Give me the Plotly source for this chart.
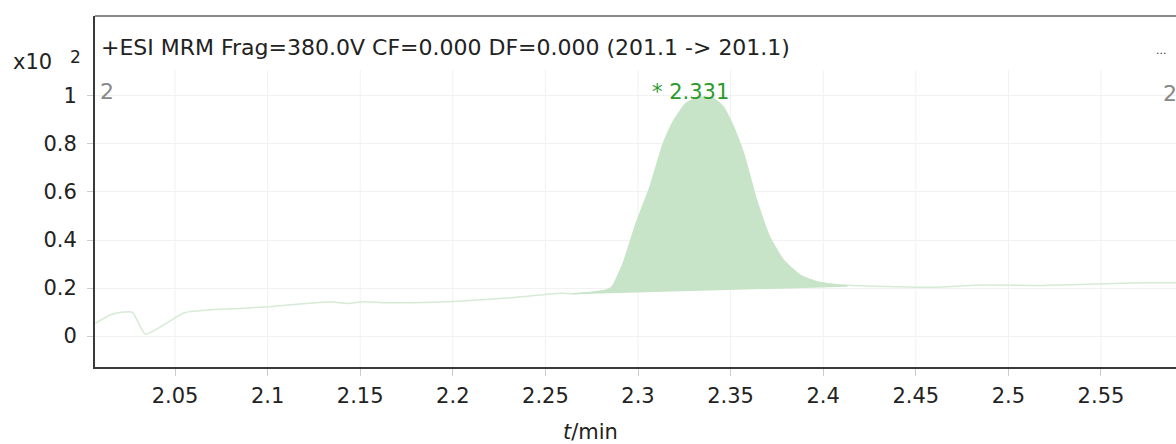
import plotly.graph_objects as go

# ---- data ----
time_min = [2.007, 2.015, 2.021, 2.027, 2.034, 2.055, 2.067, 2.085, 2.101, 2.121,
            2.135, 2.143, 2.152, 2.164, 2.197, 2.233, 2.258, 2.265, 2.276, 2.283,
            2.286, 2.292, 2.299, 2.3065, 2.3137, 2.319, 2.326, 2.3335, 2.3407, 2.346,
            2.3515, 2.357, 2.364, 2.371, 2.3785, 2.3875, 2.3965, 2.409, 2.413, 2.44,
            2.459, 2.485, 2.521, 2.548, 2.575, 2.592]
intensity_x100 = [0.053, 0.0875, 0.099, 0.099, 0.008, 0.097, 0.108, 0.115, 0.122, 0.136,
                  0.142, 0.136, 0.143, 0.139, 0.143, 0.161, 0.178, 0.176, 0.183, 0.192,
                  0.205, 0.303, 0.47, 0.622, 0.803, 0.893, 0.97, 0.995, 0.99, 0.955,
                  0.872, 0.761, 0.567, 0.414, 0.317, 0.254, 0.226, 0.2125, 0.211, 0.205,
                  0.203, 0.2125, 0.211, 0.217, 0.222, 0.222]

peak_start_time = 2.265
peak_end_time = 2.413
peak_baseline = [0.174, 0.205]      # integration baseline at start / end
peak_rt_label = "* 2.331"
peak_rt = 2.331

x_ticks = [2.05, 2.10, 2.15, 2.20, 2.25, 2.30, 2.35, 2.40, 2.45, 2.50, 2.55]
y_ticks = [0, 0.2, 0.4, 0.6, 0.8, 1.0]

header_text = "+ESI MRM Frag=380.0V CF=0.000 DF=0.000 (201.1 -> 201.1)"

# ---- figure ----
X_RANGE = [2.0068, 2.5905]
Y_RANGE = [-0.129, 1.333]
GRID_TOP = 1.108
FONT = "DejaVu Sans, Liberation Sans, Arial, sans-serif"
TXT = "#222222"

fig = go.Figure()

# full chromatogram trace (faint green)
fig.add_trace(go.Scatter(
    x=time_min, y=intensity_x100, mode="lines",
    line=dict(color="#d6ebd6", width=1.5, shape="spline", smoothing=0.5),
    hoverinfo="skip", showlegend=False))

# integrated peak area
pk_t = [t for t in time_min if peak_start_time <= t <= peak_end_time]
pk_v = [v for t, v in zip(time_min, intensity_x100) if peak_start_time <= t <= peak_end_time]
fig.add_trace(go.Scatter(
    x=[peak_start_time, peak_end_time], y=peak_baseline, mode="lines",
    line=dict(color="rgba(0,0,0,0)", width=0), hoverinfo="skip", showlegend=False))
fig.add_trace(go.Scatter(
    x=pk_t, y=pk_v, mode="lines", fill="tonexty",
    fillcolor="#c8e4c8",
    line=dict(color="#c8e4c8", width=1, shape="spline", smoothing=0.5),
    hoverinfo="skip", showlegend=False))

# vertical gridlines (only in data region below header)
for xv in x_ticks:
    fig.add_shape(type="line", xref="x", yref="y", x0=xv, x1=xv,
                  y0=Y_RANGE[0], y1=GRID_TOP,
                  line=dict(color="#f1f1f1", width=1), layer="below")

# top border
fig.add_shape(type="line", xref="paper", yref="paper", x0=0, x1=1, y0=1, y1=1,
              line=dict(color="#8a8a8a", width=2))

# annotations
fig.add_annotation(x=peak_rt, y=max(pk_v), xref="x", yref="y", text=peak_rt_label,
                   showarrow=False, xanchor="center", yanchor="bottom",
                   xshift=-5, yshift=-9,
                   font=dict(family=FONT, size=21, color="#2a9a2a"))
fig.add_annotation(x=0, y=1, xref="paper", yref="paper", text=header_text,
                   showarrow=False, xanchor="left", yanchor="middle",
                   xshift=4, yshift=-31,
                   font=dict(family=FONT, size=22, color=TXT))
fig.add_annotation(x=0, y=1, xref="paper", yref="paper", text="2",
                   showarrow=False, xanchor="left", yanchor="middle",
                   xshift=3, yshift=-75,
                   font=dict(family=FONT, size=22, color="#888888"))
fig.add_annotation(x=1, y=1, xref="paper", yref="paper", text="2",
                   showarrow=False, xanchor="left", yanchor="middle",
                   xshift=-15, yshift=-77,
                   font=dict(family=FONT, size=22, color="#888888"))
fig.add_annotation(x=1, y=1, xref="paper", yref="paper", text="...",
                   showarrow=False, xanchor="left", yanchor="middle",
                   xshift=-22, yshift=-34,
                   font=dict(family=FONT, size=11, color="#333333"))
fig.add_annotation(x=0, y=1, xref="paper", yref="paper", text="x10",
                   showarrow=False, xanchor="right", yanchor="middle",
                   xshift=-41, yshift=-46,
                   font=dict(family=FONT, size=21, color=TXT))
fig.add_annotation(x=0, y=1, xref="paper", yref="paper", text="2",
                   showarrow=False, xanchor="center", yanchor="middle",
                   xshift=-20, yshift=-41,
                   font=dict(family=FONT, size=17, color=TXT))
fig.add_annotation(x=0.458, y=0, xref="paper", yref="paper", text="<i>t</i>/min",
                   showarrow=False, xanchor="center", yanchor="middle",
                   yshift=-65,
                   font=dict(family=FONT, size=21, color=TXT))

fig.update_xaxes(range=X_RANGE, tickvals=x_ticks, showgrid=False, zeroline=False,
                 showline=True, linecolor="#3a3a3a", linewidth=2,
                 ticks="outside", ticklen=7, tickcolor="#cccccc", tickwidth=1,
                 ticklabelstandoff=2,
                 tickfont=dict(family=FONT, size=21, color=TXT))
fig.update_yaxes(range=Y_RANGE, tickvals=y_ticks, showgrid=True, gridcolor="#f1f1f1",
                 gridwidth=1, zeroline=False,
                 showline=True, linecolor="#3a3a3a", linewidth=2,
                 ticks="outside", ticklen=6, tickcolor="#cccccc", tickwidth=1,
                 ticklabelstandoff=6,
                 tickfont=dict(family=FONT, size=21, color=TXT))

fig.update_layout(width=1176, height=444,
                  margin=dict(l=95, r=0, t=16, b=77),
                  plot_bgcolor="white", paper_bgcolor="white",
                  showlegend=False)

fig.write_html("out.html",
               config={"displayModeBar": False},
               post_script="document.body.style.margin='0';document.body.style.overflow='hidden';")
